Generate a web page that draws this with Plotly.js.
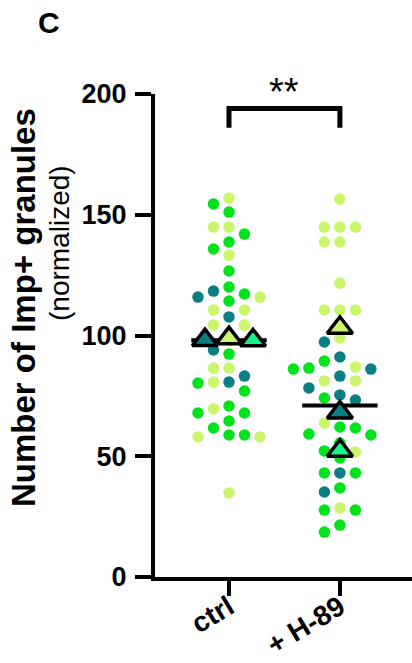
<!DOCTYPE html>
<html><head><meta charset="utf-8">
<script src="https://cdn.plot.ly/plotly-3.0.1.min.js"></script>
<style>html,body{margin:0;padding:0;background:#fff;}#chart{width:412px;height:663px;}</style>
</head><body><div id="chart"></div>
<script>
// ---- data ----
const categories = ['ctrl', '+ H-89'];
const yTickVals = [0, 50, 100, 150, 200];

const ctrlTeal   = [118.4, 115.9, 107.7, 94.0, 83.2, 80.7];
const ctrlBright = [154.5, 151.1, 142.0, 138.7, 135.8, 126.7, 120.1, 117.2, 114.3, 98.1, 92.3, 80.3, 77.0, 70.8, 67.9, 67.9, 64.6, 61.7, 58.8, 58.8];
const ctrlLight  = [156.9, 144.9, 144.9, 133.3, 115.9, 110.6, 110.6, 104.3, 104.3, 86.5, 86.5, 80.7, 69.6, 58.0, 58.0, 34.8];

const h89Teal   = [97.3, 91.1, 86.1, 83.2, 78.3, 75.4, 73.3, 43.1, 35.2];
const h89Bright = [89.4, 86.5, 86.1, 74.1, 67.9, 62.1, 61.7, 59.2, 58.8, 55.5, 52.2, 49.3, 43.1, 43.1, 36.9, 27.7, 27.7, 21.5, 18.6];
const h89Light  = [156.5, 144.9, 144.9, 144.9, 138.7, 138.7, 121.7, 110.6, 110.6, 110.6, 99.0, 87.0, 81.2, 81.2, 63.8, 51.8, 28.6];

// replicate means (triangles), order: teal, light, bright replicate
const ctrlRepMeans = [98.1, 98.9, 98.0];
const h89RepMeans  = [68.1, 103.2, 52.3];
// group mean line
const groupMeans = [98.0, 71.0];
const significance = '**';

// ---- styling / geometry ----
const COL_TEAL = '#0b7e84', COL_BRIGHT = '#00e31c', COL_LIGHT = '#c9f66a', COL_SPRING = '#14f487';
const FONT = 'Liberation Sans, Arial, Helvetica, sans-serif';
const L = 155, T = 94, W = 257, H = 483;
const xRange = [-0.667, 1.65], yRange = [0, 200];
const pxPerX = W / (xRange[1] - xRange[0]);
const pxPerY = H / (yRange[1] - yRange[0]);

function swarm(groups, center, colPx, minDy) {
  const pts = [];
  groups.forEach((vals, gi) => vals.forEach((v, i) => pts.push({v, gi, i})));
  pts.sort((a, b) => b.v - a.v);
  const placed = [];
  pts.forEach(p => {
    for (let k = 0; k < 40; k++) {
      const col = k === 0 ? 0 : (k % 2 ? -(k + 1) / 2 : k / 2);
      const clash = placed.some(q => q.col === col && Math.abs(q.v - p.v) * pxPerY < minDy);
      if (!clash) { p.col = col; break; }
    }
    placed.push(p);
  });
  const xs = groups.map(() => []), ys = groups.map(() => []);
  pts.forEach(p => { xs[p.gi].push(center + p.col * colPx / pxPerX); ys[p.gi].push(p.v); });
  return {xs, ys};
}

const sCtrl = swarm([ctrlTeal, ctrlBright, ctrlLight], 0, 15.5, 13);
const sH89  = swarm([h89Teal, h89Bright, h89Light], 1, 15.5, 13);
const colors = [COL_TEAL, COL_BRIGHT, COL_LIGHT];

const traces = [];
[2, 1, 0].forEach(gi => {
  traces.push({
    type: 'scatter', mode: 'markers',
    x: sCtrl.xs[gi].concat(sH89.xs[gi]),
    y: sCtrl.ys[gi].concat(sH89.ys[gi]),
    marker: {size: 11.5, color: colors[gi], line: {width: 0}},
    hoverinfo: 'y', showlegend: false, cliponaxis: false
  });
});

// mean lines
const mx = [], my = [];
groupMeans.forEach((m, i) => { mx.push(i - 0.34, i + 0.34, null); my.push(m, m, null); });
traces.push({type: 'scatter', mode: 'lines', x: mx, y: my,
  line: {color: '#000', width: 4}, hoverinfo: 'skip', showlegend: false});

// replicate-mean triangles
const triColors = [COL_TEAL, COL_LIGHT, COL_SPRING];
const tC = swarm(ctrlRepMeans.map(v => [v]), 0, 24, 20);
const tH = swarm(h89RepMeans.map(v => [v]), 1, 24, 20);
const tx = [], ty = [], tc = [];
[tC, tH].forEach(s => s.xs.forEach((xa, gi) => { tx.push(xa[0]); ty.push(s.ys[gi][0]); tc.push(triColors[gi]); }));
traces.push({type: 'scatter', mode: 'markers', x: tx, y: ty,
  marker: {symbol: 'triangle-up', size: 22, color: tc, line: {color: '#000', width: 3.5}},
  hoverinfo: 'y', showlegend: false, cliponaxis: false});

const px2paperX = px => (px - L) / W;
const px2paperY = py => (T + H - py) / H;

const layout = {
  width: 412, height: 663,
  margin: {l: L, r: 412 - L - W, t: T, b: 663 - T - H, pad: 0},
  paper_bgcolor: '#fff', plot_bgcolor: '#fff',
  showlegend: false,
  xaxis: {
    range: xRange, tickvals: [0, 1], ticktext: categories, tickangle: -31,
    showline: true, linewidth: 4, linecolor: '#000', zeroline: false, showgrid: false,
    ticks: 'outside', ticklen: 15, tickwidth: 4, tickcolor: '#000', ticklabelstandoff: -16,
    tickfont: {family: FONT, size: 28, color: '#000', weight: 700}, fixedrange: true
  },
  yaxis: {
    range: yRange, tickvals: yTickVals,
    showline: true, linewidth: 4, linecolor: '#000', zeroline: false, showgrid: false,
    ticks: 'outside', ticklen: 16, tickwidth: 4, tickcolor: '#000', ticklabelstandoff: 3,
    tickfont: {family: FONT, size: 27, color: '#000', weight: 700}, fixedrange: true
  },
  shapes: [{
    type: 'path', xref: 'x', yref: 'y',
    path: `M 0,186 L 0,194 L 1,194 L 1,186`,
    line: {color: '#000', width: 5}
  }],
  annotations: [
    {text: significance, xref: 'x', yref: 'y', x: 0.5, y: 191.5, yanchor: 'bottom', showarrow: false,
     font: {family: FONT, size: 38, color: '#000'}},
    {text: '<b>C</b>', xref: 'paper', yref: 'paper', x: px2paperX(36), y: px2paperY(4),
     xanchor: 'left', yanchor: 'top', showarrow: false, font: {family: FONT, size: 30, color: '#000'}},
    {text: '<b>Number of Imp+ granules</b>', xref: 'paper', yref: 'paper', x: px2paperX(23), y: px2paperY(308),
     xanchor: 'center', yanchor: 'middle', textangle: -90, showarrow: false,
     font: {family: FONT, size: 33, color: '#000'}},
    {text: '(normalized)', xref: 'paper', yref: 'paper', x: px2paperX(59), y: px2paperY(243),
     xanchor: 'center', yanchor: 'middle', textangle: -90, showarrow: false,
     font: {family: FONT, size: 28, color: '#000'}}
  ]
};

Plotly.newPlot('chart', traces, layout, {staticPlot: true, displayModeBar: false});
</script>
</body></html>
